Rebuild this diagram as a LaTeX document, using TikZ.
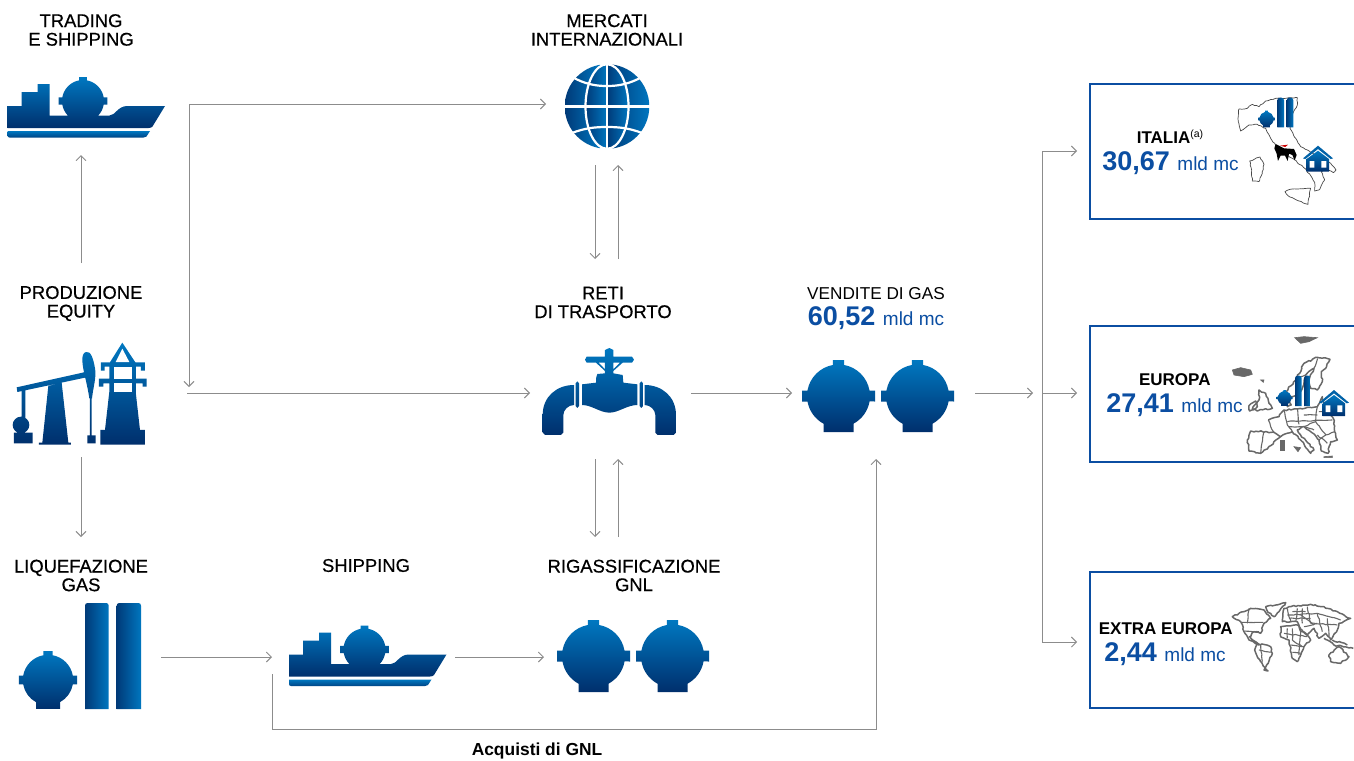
\documentclass[tikz,border=0pt]{standalone}
\usepackage{fontspec}
\setmainfont{Liberation Sans}
\newfontfamily\hdrfont[FakeBold=0.5]{Liberation Sans}
\usetikzlibrary{arrows.meta,decorations.pathmorphing}
\definecolor{gradTop}{HTML}{0078C1}
\definecolor{gradBot}{HTML}{002F6C}
\definecolor{colDark}{HTML}{003A78}
\definecolor{colLight}{HTML}{0076BF}
\definecolor{valBlue}{HTML}{0B4EA2}
\definecolor{connGrey}{HTML}{8C8C8C}
\definecolor{mapGrey}{HTML}{686868}
\tikzset{
  conn/.style={draw=connGrey,line width=0.9pt,-{Straight Barb[length=5pt,width=10pt]}},
  connboth/.style={draw=connGrey,line width=0.9pt,{Straight Barb[length=5pt,width=10pt]}-{Straight Barb[length=5pt,width=10pt]}},
  connplain/.style={draw=connGrey,line width=0.9pt},
  slot/.style={inner sep=0pt,outer sep=0pt,minimum width=#1},
  hdr/.style={font=\hdrfont\fontsize{18.4}{18.6}\selectfont,align=center,text=black,inner sep=0pt},
  bigval/.style={font=\fontsize{19}{22}\selectfont,text=valBlue,inner sep=0pt,anchor=base},
  boxlabel/.style={font=\bfseries\fontsize{17}{18}\selectfont,text=black,inner sep=0pt,anchor=base},
  iconfill/.style={top color=gradTop,bottom color=gradBot},
  regionbox/.style={draw=valBlue,line width=2pt},
  mapthin/.style={draw=mapGrey!70!black,line width=0.7pt,line join=round,decorate,decoration={random steps,segment length=2.5pt,amplitude=0.5pt}},
  mapthick/.style={draw=mapGrey,line width=1.5pt,line join=round,decorate,decoration={random steps,segment length=2.5pt,amplitude=0.8pt}},
  mapline/.style={draw=mapGrey,line width=1.1pt,line join=round,decorate,decoration={random steps,segment length=3pt,amplitude=0.5pt}},
  mapisle/.style={fill=mapGrey,draw=mapGrey,line width=0.6pt}
}
\newcommand{\tankIcon}[3]{%
  \shade[iconfill,shift={(#1,#2)},x=1pt,y=1pt,scale=#3]
    (36.5,-5.5) -- (36.5,5.5) -- (31,5.5) arc[start angle=10,end angle=79.6,radius=31.5pt]
    -- (5.7,36) -- (-5.7,36) -- (-5.7,31) arc[start angle=100.4,end angle=170,radius=31.5pt]
    -- (-36.5,5.5) -- (-36.5,-5.5) -- (-31,-5.5) arc[start angle=190,end angle=241.6,radius=31.5pt]
    -- (-15,-36) -- (15,-36) -- (15,-27.7) arc[start angle=298.4,end angle=350,radius=31.5pt] -- cycle;}
\newcommand{\colIcon}[4]{%
  \shade[left color=colDark,right color=colLight]
    (#1,#4) [rounded corners=2.5pt] -- (#1,#3) -- (#2,#3) [sharp corners] -- (#2,#4) -- cycle;}
\newcommand{\shipIcon}[2]{%
  \shade[iconfill,shift={(#1,#2)},x=1pt,y=1pt]
    (0,31.5) -- (14,31.5) -- (14,45.5) -- (30,45.5) -- (30,53.5) -- (42,53.5) -- (42,22) -- (60.3,22)
    arc[start angle=223.6,end angle=190,radius=21pt] -- (51.2,32.85) -- (51.2,40.15) -- (54.8,40.15)
    arc[start angle=170,end angle=100.4,radius=21pt] -- (71.7,60.5) -- (79.3,60.5) -- (79.3,57.16)
    arc[start angle=79.6,end angle=10,radius=21pt] -- (99.8,40.15) -- (99.8,32.83) -- (96.2,32.83)
    arc[start angle=-10,end angle=-43.6,radius=21pt] -- (102,22)
    .. controls (108,22) and (110,31.5) .. (120,31.5) -- (157.5,31.5) -- (145,11)
    .. controls (144,10) and (143,9.5) .. (141,9.5) -- (0,9.5) -- cycle;
  \shade[top color=gradTop,bottom color=gradBot!70!gradTop,shift={(#1,#2)},x=1pt,y=1pt]
    (0,6.5) -- (142.5,6.5) -- (139,1) .. controls (138,0.3) and (137.5,0) .. (136,0)
    -- (2,0) .. controls (0.7,0) and (0,0.7) .. (0,2) -- cycle;}
\newcommand{\houseIcon}[2]{%
  \begin{scope}[shift={(#1,#2)},x=0.3333pt,y=-0.3333pt]
    \fill[gradTop!70!gradBot] (0,38) -- (45,0) -- (90,38) -- (83,40) -- (45,10) -- (7,40) -- cycle;
    \shade[iconfill] (11,40) -- (45,15) -- (78,40) -- (78,78) -- (11,78) -- cycle;
    \fill[white] (20,46) rectangle (34,66) (55,46) rectangle (70,66);
  \end{scope}}
\begin{document}
\begin{tikzpicture}[x=1pt,y=-1pt]
\useasboundingbox (0,0) rectangle (1354,760);
\fill[white] (0,0) rectangle (1354,760);

% ---- invisible slots, connectors meet their borders
\node[slot=158pt,minimum height=85pt] (trading) at (81,112.5) {};
\node[slot=172pt,minimum height=128pt] (prod) at (101,393) {};
\node[slot=160pt,minimum height=173pt] (liq) at (81,623.5) {};
\node[slot=183pt,minimum height=34pt] (ship) at (363.5,657) {};
\node[slot=122pt,minimum height=122pt] (mercati) at (607,104) {};
\node[slot=161pt,minimum height=132pt] (reti) at (610.5,393) {};
\node[slot=125pt,minimum height=163pt] (rigass) at (606.5,618.5) {};
\node[slot=183pt,minimum height=132pt] (vendite) at (883.5,393) {};
\node[slot=277pt,minimum height=136pt] (italia) at (1215.5,151) {};
\node[slot=277pt,minimum height=136pt] (europa) at (1215.5,393) {};
\node[slot=277pt,minimum height=136pt] (extra) at (1215.5,642) {};
\coordinate (prodTop) at (81,263);
\coordinate (cornerEnd) at (189,387);
\coordinate (retiTop) at (606.5,259);
\coordinate (fanIn) at (1033,393);
\coordinate (fork) at (1042,393);
\coordinate (lngTurn) at (272,729);

% ---- headings
\node[hdr] (tTrading) at (81,30) {TRADING\\E SHIPPING};
\node[hdr] (tProd) at (81,303.5) {PRODUZIONE\\EQUITY};
\node[hdr] (tLiq) at (81,575.5) {LIQUEFAZIONE\\GAS};
\node[hdr] (tShip) at (366,565.5) {SHIPPING};
\node[hdr] (tMerc) at (607,30) {MERCATI\\INTERNAZIONALI};
\node[hdr] (tReti) at (603,302.5) {RETI\\DI TRASPORTO};
\node[hdr] (tRig) at (634,575.5) {RIGASSIFICAZIONE\\GNL};
\node[font=\fontsize{17.2}{19}\selectfont,inner sep=0pt] (tVend) at (876,294) {VENDITE DI GAS};
\node[bigval] (vVend) at (876,325) {\fontsize{27}{30}\selectfont\bfseries 60,52 \fontsize{19}{22}\selectfont\mdseries mld mc};
\node[font=\bfseries\fontsize{17.4}{18}\selectfont,inner sep=0pt] (tAcq) at (537,751) {Acquisti di GNL};

% ---- connectors
\draw[conn] (prodTop) -- (trading.south);
\draw[conn] (prod.south -| liq.north) -- (liq.north);
\draw[conn] (prod.east) -- (reti.west);
\draw[connboth] (cornerEnd) -- (cornerEnd |- mercati.west) -- (mercati.west);
\draw[conn] ([xshift=-11.5pt]mercati.south -| retiTop) -- ([xshift=-11.5pt]retiTop);
\draw[conn] ([xshift=11.5pt]retiTop) -- ([xshift=11.5pt]mercati.south -| retiTop);
\draw[conn] ([xshift=-11.5pt]reti.south -| retiTop) -- ([xshift=-11.5pt]rigass.north -| retiTop);
\draw[conn] ([xshift=11.5pt]rigass.north -| retiTop) -- ([xshift=11.5pt]reti.south -| retiTop);
\draw[conn] (reti.east) -- (vendite.west);
\draw[conn] (liq.east |- ship.west) -- (ship.west);
\draw[conn] (ship.east) -- (ship.east -| rigass.west);
\draw[conn] (ship.south west) -- (lngTurn) -| ([xshift=-7.5pt]vendite.south);
\draw[conn] (vendite.east) -- (fanIn);
\draw[connplain] (fork |- italia.west) -- (fork |- extra.west);
\draw[conn] (fork |- italia.west) -- (italia.west);
\draw[conn] (fork) -- (europa.west);
\draw[conn] (fork |- extra.west) -- (extra.west);

% ---- icons: ships
\shipIcon{7.5}{137.5}
\shipIcon{289}{686}

% ---- pump jack and tower
\begin{scope}[shift={(0,330)},x=0.3333pt,y=-0.3333pt]
  \shade[iconfill]
    (50,172) -- (52,186) -- (255,143) -- (252,127) -- cycle
    (258,66) .. controls (240,70) and (248,110) .. (255,140) .. controls (262,170) and (266,190) .. (268,205)
      -- (276,205) .. controls (280,170) and (290,140) .. (285,115) .. controls (280,85) and (272,62) .. (258,66) -- cycle
    (270,205) -- (270,316) -- (275,316) -- (275,205) -- cycle
    (262,316) -- (262,340) -- (287,340) -- (287,316) -- cycle
    (145,168) -- (127,338) -- (117,338) -- (117,344) -- (213,344) -- (213,338) -- (205,338) -- (185,158) -- cycle
    (65,180) -- (65,265) -- (76,265) -- (76,178) -- cycle
    (88,285) arc[start angle=0,end angle=360,radius=8.33pt] -- cycle
    (42,308) -- (42,340) -- (98,340) -- (98,308) -- cycle
    (367,38) -- (328,100) -- (408,100) -- cycle
    (303,97) -- (303,122) -- (314,122) -- (314,110) -- (423,110) -- (423,122) -- (435,122) -- (435,97) -- cycle
    (328,100) -- (328,190) -- (408,190) -- (408,100) -- cycle
    (297,146) -- (297,170) -- (310,170) -- (310,160) -- (428,160) -- (428,170) -- (440,170) -- (440,146) -- cycle
    (328,185) -- (315,300) -- (301,300) -- (301,344) -- (435,344) -- (435,300) -- (420,300) -- (407,185) -- cycle;
  \fill[white] (367,56) -- (347,96) -- (388,96) -- cycle;
  \fill[white] (342,111) rectangle (395,146);
  \fill[white] (342,160) rectangle (395,185);
\end{scope}

% ---- globe
\begin{scope}
  \clip (607,106.5) circle[radius=42.3pt];
  \shade[left color=colDark,right color=colLight] (565,60) rectangle (600,150);
  \shade[left color=colDark,right color=colLight] (607,60) rectangle (649.5,150);
\end{scope}
\begin{scope}
  \clip (607,106.5) ellipse[x radius=21.5pt,y radius=42.3pt];
  \shade[left color=colDark,right color=colLight] (585.5,60) rectangle (607,150);
  \shade[left color=colDark,right color=colLight] (607,60) rectangle (628.5,150);
\end{scope}
\begin{scope}[draw=white,line width=2.2pt]
  \draw (563,106.5) -- (651,106.5);
  \draw (607,62) -- (607,151);
  \draw (607,106.5) ellipse[x radius=21.5pt,y radius=42.3pt];
  \draw (572,77) .. controls (585,84) and (595,86) .. (607,86) .. controls (619,86) and (629,84) .. (642,77);
  \draw (572,133) .. controls (585,128) and (595,127) .. (607,127) .. controls (619,127) and (629,128) .. (642,133);
\end{scope}

% ---- valve
\begin{scope}[shift={(520,340)},x=0.3333pt,y=-0.3333pt]
  \shade[iconfill]
    (162,135) .. controls (110,135) and (68,170) .. (68,225) -- (68,278) -- (75,285) -- (123,285) -- (130,278) -- (130,225)
      .. controls (130,210) and (145,195) .. (162,195) -- cycle
    (374,135) -- (374,195) .. controls (391,195) and (406,210) .. (406,225) -- (406,278) -- (413,285) -- (461,285) -- (468,278) -- (468,225)
      .. controls (468,170) and (426,135) .. (374,135) -- cycle
    (167,130) -- (167,198) -- (172,204) -- (177,198) -- (177,130) -- (172,124) -- cycle
    (359,130) -- (359,198) -- (364,204) -- (369,198) -- (369,130) -- (364,124) -- cycle
    (186,133) -- (186,195) .. controls (215,195) and (240,218) .. (268,218) .. controls (296,218) and (321,195) .. (352,195)
      -- (352,133) -- (310,128) -- (308,105) -- (280,100) -- (280,68) -- (336,68) -- (342,59) -- (336,50) -- (280,50) -- (280,30)
      -- (268,24) -- (255,30) -- (255,50) -- (200,50) -- (195,59) -- (200,68) -- (255,68) -- (255,100) -- (232,102) -- (228,115) -- (228,128) -- cycle
    (228,68) -- (255,93) -- (255,88) -- (236,68) -- cycle
    (308,68) -- (300,68) -- (280,88) -- (280,93) -- cycle;
\end{scope}

% ---- tanks and columns
\tankIcon{838.5}{396}{1}
\tankIcon{917.5}{396}{1}
\tankIcon{593.5}{656}{1}
\tankIcon{672.5}{656}{1}
\tankIcon{48}{680}{0.8}
\colIcon{85}{108.7}{603}{709}
\colIcon{116.7}{141}{603}{709}

% ---- region boxes
\draw[regionbox] (1356,83.5) -- (1089.5,83.5) -- (1089.5,219) -- (1356,219);
\draw[regionbox] (1356,326) -- (1089.5,326) -- (1089.5,462) -- (1356,462);
\draw[regionbox] (1356,572) -- (1089.5,572) -- (1089.5,708) -- (1356,708);

% ---- Italy
\begin{scope}[shift={(1084,75)},x=0.3333pt,y=-0.3333pt]
  \draw[mapthin] (465,102) -- (490,100) -- (505,88) -- (525,95) -- (545,78) -- (575,70) -- (640,68) -- (640,90) -- (625,120) -- (618,160)
    -- (635,190) -- (650,215) -- (680,232) -- (700,245) -- (740,265) -- (756,285) -- (748,293) -- (725,282) -- (712,290) -- (722,315)
    -- (705,345) -- (692,348) -- (692,322) -- (665,282) -- (625,250) -- (585,225) -- (560,190) -- (545,160) -- (520,148) -- (495,150)
    -- (470,168) -- (462,130) -- cycle;
  \draw[mapthin] (603,350) -- (625,342) -- (680,340) -- (672,388) -- (645,378) -- (612,362) -- cycle;
  \draw[mapthin] (497,258) -- (528,246) -- (540,268) -- (535,295) -- (525,320) -- (505,318) -- (503,285) -- cycle;
  \fill[black] (575,207) -- (600,220) -- (630,222) -- (638,240) -- (632,256) -- (625,240) -- (615,236) -- (611,258) -- (603,242) -- (590,242) -- (582,258) -- (578,236) -- (571,220) -- cycle;
  \fill[red!80!black] (588,212) -- (612,209) -- (604,216) -- cycle;
\end{scope}
\tankIcon{1266.5}{119}{0.23}
\colIcon{1277.3}{1284}{97.7}{127.3}
\colIcon{1286.7}{1293.3}{97.7}{127.3}
\houseIcon{1303}{145.7}

% ---- Europe
\begin{scope}[shift={(1084,325)},x=0.3333pt,y=-0.3333pt]
  \fill[mapisle] (445,135) -- (470,128) -- (500,135) -- (505,148) -- (480,155) -- (450,150) -- cycle;
  \fill[mapisle] (632,38) -- (660,35) -- (700,38) -- (675,50) -- (650,55) -- cycle;
  \fill[mapisle] (530,165) -- (540,165) -- (538,172) -- cycle;
  % UK, Ireland
  \draw[mapthick] (525,195) -- (545,205) -- (555,235) -- (565,250) -- (520,258) -- (505,252) -- (525,225) -- cycle;
  \draw[mapthick] (495,242) -- (515,228) -- (520,245) -- (497,258) -- cycle;
  % Scandinavia and Finland
  \draw[mapthick] (600,205) -- (635,165) -- (660,115) -- (700,97) -- (738,103) -- (725,130) -- (712,140) -- (715,170) -- (700,195)
    -- (680,190) -- (675,165) -- (690,130) -- (665,150) -- (655,190) -- (640,210) -- (620,215) -- cycle;
  \draw[mapline] (640,160) -- (665,150);
  \draw[mapline] (690,130) -- (700,100);
  \draw[mapthick] (605,210) -- (610,245) -- (622,240) -- cycle;
  % mainland
  \draw[mapthick] (553,285) -- (585,275) -- (600,255) -- (640,252) -- (700,245) -- (715,215) -- (722,255) -- (748,280) -- (752,320)
    -- (760,345) -- (740,350) -- (732,385) -- (712,378) -- (705,345) -- (680,320) -- (660,305) -- (640,315) -- (650,330) -- (690,375)
    -- (680,385) -- (650,345) -- (625,320) -- (590,335) -- (570,322) -- (500,318) -- (490,345) -- (495,378) -- (530,385) -- (560,362) -- (590,335);
  \draw[mapline] (553,285) -- (560,305) -- (570,322);
  \draw[mapline] (600,255) -- (610,300) -- (625,320);
  \draw[mapline] (640,252) -- (645,298);
  \draw[mapline] (700,245) -- (695,290) -- (660,305);
  \draw[mapline] (610,290) -- (745,285);
  \draw[mapline] (615,305) -- (660,305) -- (690,315);
  \draw[mapline] (695,290) -- (725,330) -- (752,320);
  \draw[mapline] (725,330) -- (705,345);
  \draw[mapline] (705,260) -- (745,262);
  \draw[mapline] (700,330) -- (730,355);
  \draw[mapline] (540,320) -- (530,385);
  \draw[mapline] (660,270) -- (700,270);
  \fill[mapisle] (630,365) -- (650,368) -- (642,380) -- cycle;
  \fill[mapisle] (590,345) -- (600,345) -- (600,375) -- (590,375) -- cycle;
  \fill[mapisle] (720,395) -- (745,393) -- (745,398) -- (720,398) -- cycle;
\end{scope}
\tankIcon{1284.5}{398}{0.22}
\colIcon{1295}{1301.7}{375.7}{406}
\colIcon{1304}{1310.7}{375.7}{406}
\houseIcon{1319}{390}

% ---- World
\begin{scope}[shift={(1084,565)},x=0.3333pt,y=-0.3333pt]
  \clip (440,100) rectangle (810,330);
  % North America
  \draw[mapthick] (445,155) -- (480,140) -- (500,130) -- (540,135) -- (560,160) -- (540,175) -- (530,205) -- (510,200) -- (497,215) -- (525,240) -- (495,225) -- (480,200) -- (470,170) -- cycle;
  \draw[mapline] (473,172) -- (538,172);
  \draw[mapline] (482,198) -- (525,200);
  \draw[mapline] (495,130) -- (490,175);
  % Greenland
  \draw[mapthick] (545,125) -- (605,113) -- (585,140) -- (570,155) -- (552,142) -- cycle;
  % South America
  \draw[mapthick] (520,235) -- (560,245) -- (565,265) -- (540,315) -- (552,318) -- (530,290) -- (512,255) -- cycle;
  \draw[mapline] (525,255) -- (560,262);
  \draw[mapline] (530,240) -- (535,290);
  % Eurasia
  \draw[mapthick] (600,130) -- (620,125) -- (680,118) -- (720,125) -- (780,150) -- (800,160) -- (765,175) -- (760,195) -- (740,225) -- (725,205) -- (705,220) -- (690,190) -- (670,210) -- (648,195) -- (640,170) -- (595,170) -- cycle;
  \draw[mapline] (610,150) -- (700,145) -- (770,165);
  \draw[mapline] (640,130) -- (635,170);
  \draw[mapline] (670,125) -- (680,175);
  \draw[mapline] (610,130) -- (620,170);
  \draw[mapline] (700,145) -- (715,200);
  \draw[mapline] (650,150) -- (690,180);
  \draw[mapline] (625,140) -- (665,140);
  \draw[mapline] (615,160) -- (680,160);
  \draw[mapline] (655,130) -- (655,175);
  \draw[mapline] (680,175) -- (760,180);
  \draw[mapline] (730,160) -- (735,215);
  \draw[mapline] (660,185) -- (700,175);
  % Africa
  \draw[mapthick] (590,185) -- (640,180) -- (680,225) -- (660,245) -- (640,290) -- (625,280) -- (615,225) -- (590,215) -- cycle;
  \draw[mapline] (600,205) -- (670,215);
  \draw[mapline] (610,190) -- (610,220);
  \draw[mapline] (625,190) -- (625,225) -- (655,245);
  \draw[mapline] (650,190) -- (645,270);
  \draw[mapline] (620,240) -- (660,245);
  \draw[mapline] (625,262) -- (650,265);
  % Islands and Oceania
  \draw[mapthick] (720,220) -- (750,240) -- (808,250);
  \draw[mapthick] (745,225) -- (790,240);
  \draw[mapthick] (735,270) -- (765,245) -- (795,275) -- (770,295) -- (740,290) -- cycle;
\end{scope}

% ---- region texts
\node[boxlabel] (lIta) at (1170,143.3) {ITALIA\raisebox{6pt}{\mdseries\fontsize{10.5}{10}\selectfont (a)}};
\node[bigval] (vIta) at (1170.5,170) {\fontsize{27}{30}\selectfont\bfseries 30,67 \fontsize{19}{22}\selectfont\mdseries mld mc};
\node[boxlabel] (lEur) at (1174.8,385) {EUROPA};
\node[bigval] (vEur) at (1174.5,412.7) {\fontsize{27}{30}\selectfont\bfseries 27,41 \fontsize{19}{22}\selectfont\mdseries mld mc};
\node[boxlabel] (lExt) at (1165.8,634) {EXTRA EUROPA};
\node[bigval] (vExt) at (1165,661.7) {\fontsize{27}{30}\selectfont\bfseries 2,44 \fontsize{19}{22}\selectfont\mdseries mld mc};
\end{tikzpicture}
\end{document}
